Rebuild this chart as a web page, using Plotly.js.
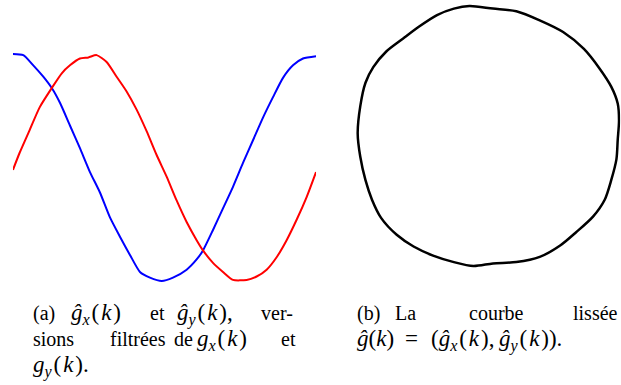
<!DOCTYPE html>
<html>
<head>
<meta charset="utf-8">
<script src="https://cdn.plot.ly/plotly-3.0.1.min.js"></script>
<style>
  html, body { margin: 0; padding: 0; background: #fff; }
  #plot { width: 621px; height: 385px; }
</style>
</head>
<body>
<div id="plot"></div>
<script>
// (a) filtered components, sample index k
let kBlue = [0, 3.4, 6.7, 10, 12.8, 15.5, 18.8, 22.1, 25.4, 28.7, 32, 35.3, 38.6, 41.9, 45.2, 49.1, 52.8, 57.3, 60.6, 62.7, 66, 69.3, 72.6, 75.9, 79.2, 82.5, 85.8, 89.1, 92.4, 95.7, 100]
let gxHat = [1.00, 0.99, 0.90, 0.80, 0.70, 0.57, 0.37, 0.17, -0.04, -0.22, -0.44, -0.61, -0.77, -0.92, -0.97, -1.00, -0.97, -0.90, -0.81, -0.73, -0.55, -0.36, -0.17, 0.04, 0.24, 0.44, 0.62, 0.79, 0.90, 0.96, 0.98]

let kRed = [0, 2.2, 5.5, 8.8, 12.8, 16.1, 18.8, 22.1, 24.9, 27.6, 30.9, 34.2, 37.5, 40.8, 44.1, 47.4, 50.7, 54, 57.3, 60.6, 62.7, 66, 69.3, 72.6, 77.1, 80.4, 83.7, 87, 90.3, 93.6, 96.9, 100]
let gyHat = [-0.02, 0.13, 0.33, 0.53, 0.70, 0.83, 0.90, 0.96, 0.97, 0.99, 0.93, 0.80, 0.67, 0.51, 0.32, 0.11, -0.08, -0.29, -0.48, -0.64, -0.73, -0.84, -0.92, -0.99, -0.99, -0.96, -0.90, -0.79, -0.64, -0.46, -0.26, -0.04]

// (b) smoothed closed curve
let curveX = [-0.15, 0.03, 0.21, 0.39, 0.57, 0.73, 0.85, 0.94, 0.99, 1.00, 0.99, 0.98, 0.94, 0.89, 0.80, 0.67, 0.55, 0.39, 0.21, 0.03, -0.12, -0.27, -0.43, -0.58, -0.71, -0.83, -0.90, -0.95, -0.99, -1.01, -0.99, -0.95, -0.89, -0.79, -0.66, -0.54, -0.40, -0.27, -0.15]
let curveY = [1.00, 0.98, 0.96, 0.89, 0.80, 0.67, 0.52, 0.38, 0.25, 0.12, -0.03, -0.18, -0.34, -0.49, -0.62, -0.74, -0.84, -0.93, -0.97, -0.98, -1.00, -0.97, -0.92, -0.85, -0.76, -0.63, -0.49, -0.34, -0.16, 0.02, 0.23, 0.41, 0.53, 0.65, 0.75, 0.84, 0.93, 0.98, 1.00]

let serif = "Liberation Serif"
let textSize = 20
let mathSize = 23

//Math pieces, hair spaces widen them a bit like the TeX ones.
function comp(letter, sub) {
	return "<i>" + letter + "</i><sub><i>" + sub + "</i></sub>\u200a(\u200a<i>k</i>\u200a)"
}

// caption pieces: [text, left pixel, line, is math]
let captionWords = [
	["(a)", 33, 0, false], [comp("ĝ", "x"), 71, 0, true], ["et", 150, 0, false], [comp("ĝ", "y") + ",", 177, 0, true], ["ver-", 261, 0, false],
	["sions", 33, 1, false], ["filtrées", 110, 1, false], ["de", 174, 1, false], [comp("g", "x"), 197, 1, true], ["et", 281, 1, false],
	[comp("g", "y") + ".", 33, 2, true],
	["(b)", 357, 0, false], ["La", 395, 0, false], ["courbe", 469, 0, false], ["lissée", 573, 0, false],
	["<i>ĝ</i>(<i>k</i>)", 357, 1, true], ["=", 405, 1, true], ["(" + comp("ĝ", "x") + ",\u2009" + comp("ĝ", "y") + ").", 431, 1, true]
]
let lineBaselines = [320, 346, 372]

let data = [
	{
		x: kBlue, y: gxHat, xaxis: "x", yaxis: "y",
		type: "scatter", mode: "lines",
		line: {color: "#0000ff", width: 2, shape: "spline", smoothing: 0.6}
	},
	{
		x: kRed, y: gyHat, xaxis: "x", yaxis: "y",
		type: "scatter", mode: "lines",
		line: {color: "#ff0000", width: 2, shape: "spline", smoothing: 0.6}
	},
	{
		x: curveX, y: curveY, xaxis: "x2", yaxis: "y2",
		type: "scatter", mode: "lines",
		line: {color: "#000000", width: 2.5, shape: "spline", smoothing: 0.8}
	}
]

let hiddenAxis = {visible: false, showgrid: false, zeroline: false, fixedrange: true}

let layout = {
	width: 621,
	height: 385,
	margin: {l: 0, r: 0, t: 0, b: 0},
	paper_bgcolor: "#ffffff",
	plot_bgcolor: "rgba(0,0,0,0)",
	showlegend: false,
	font: {family: serif, size: textSize, color: "#000000"},
	xaxis: Object.assign({}, hiddenAxis, {domain: [0.0209, 0.5089], range: [0, 100]}),
	yaxis: Object.assign({}, hiddenAxis, {domain: [0.2553, 0.8745], range: [-1.05, 1.05]}),
	xaxis2: Object.assign({}, hiddenAxis, {domain: [0.5697, 0.9989], range: [-1.04, 1.01], anchor: "y2"}),
	yaxis2: Object.assign({}, hiddenAxis, {domain: [0.2956, 0.9979], range: [-1.04, 1.04], anchor: "x2"}),
	annotations: captionWords.map((w) => {
		let size = w[3] ? mathSize : textSize
		//top of the text box sits one ascent above the baseline
		let top = lineBaselines[w[2]] - 0.891 * size
		return {
			text: w[0],
			xref: "paper", yref: "paper",
			x: w[1] / 621,
			y: 1 - top / 385,
			xanchor: "left", yanchor: "top",
			align: "left",
			showarrow: false,
			borderpad: 0,
			borderwidth: 0,
			font: {family: serif, size: size, color: "#000000"}
		}
	})
}

Plotly.newPlot("plot", data, layout, {staticPlot: true})
</script>
</body>
</html>
